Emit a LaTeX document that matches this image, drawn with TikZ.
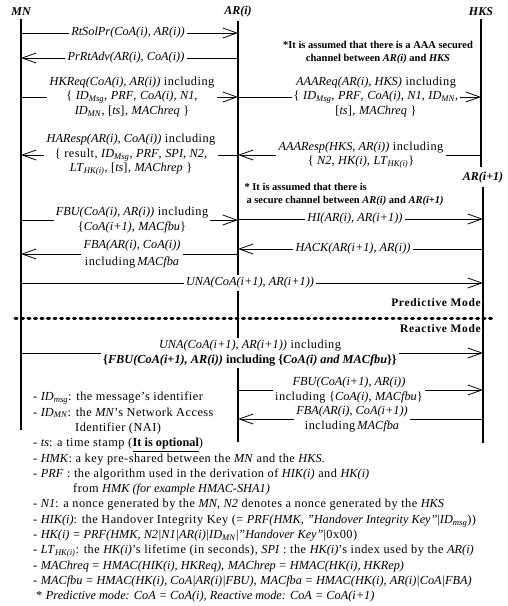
\documentclass[tikz,border=0pt]{standalone}
\usepackage{fontspec}
\setmainfont{Liberation Serif}[UprightFeatures={LetterSpace=4}]
\usetikzlibrary{arrows.meta,positioning}

\newcommand{\idsub}[1]{\textit{ID}\textsubscript{\textit{#1}}}
\newcommand{\lthk}{\textit{LT}\textsubscript{\textit{HK(i)}}}

\begin{document}
\begin{tikzpicture}[x=1pt, y=-1pt,
    every node/.style={font=\fontsize{12.3}{14.5}\selectfont},
    head/.style={font=\fontsize{12}{14}\selectfont\bfseries\itshape, inner sep=3pt},
    life/.style={line width=2.8pt},
    line/.style={line width=0.8pt},
    msg/.style={line width=0.8pt, -{Straight Barb[length=14pt, width=10pt, line width=0.8pt]}},
    lbl/.style={fill=white, align=center, inner sep=2pt},
    note/.style={font=\fontsize{10.5}{13}\selectfont\bfseries, align=center},
    mode/.style={font=\fontsize{11.5}{13}\selectfont\bfseries\addfontfeature{LetterSpace=6}, anchor=east, inner sep=0pt},
    sep/.style={line width=3pt, line cap=round, dash pattern=on 2pt off 4.5pt},
    legend/.style={font=\fontsize{12.3}{15.3}\selectfont, align=left, anchor=north west, inner sep=0pt}
  ]
  \useasboundingbox (0,0) rectangle (507,606);

  % Entities
  \node[head] (mn) at (21,12) {MN};
  \node[head] (ar) at (238,12) {AR(i)};
  \node[head] (hks) at (481,12) {HKS};
  \node[head] (arn) at (483,178) {AR(i+1)};

  \coordinate (mnend) at (21,430);
  \coordinate (arend) at (238,442);
  \coordinate (hksend) at (481,167);
  \coordinate (arnend) at (483,443);

  % Lifelines
  \draw[life] (mn.south) -- (mnend);
  \draw[life] (ar.south) -- (arend);
  \draw[life] (hks.south) -- (hksend);
  \draw[life] (arn.south) -- (arnend);

  % Notes
  \node[note] (aaanote) at (378,52) {*It is assumed that there is a AAA secured\\
    channel between \textit{AR(i)} and \textit{HKS}};
  \node[note, align=left, anchor=west] (secnote) at (241,194) {* It is assumed that there is\\
    \hspace*{2pt}a secure channel between \textit{AR(i)} and \textit{AR(i+1)}};

  % Router discovery
  \node[lbl] (rtsol) at (128,33) {\textit{RtSolPr(CoA(i), AR(i))}};
  \draw[line] (mn |- rtsol) -- (rtsol);
  \draw[msg] (rtsol) -- (ar |- rtsol);

  \node[lbl] (prrt) at (126,58) {\textit{PrRtAdv(AR(i), CoA(i))}};
  \draw[line] (ar |- prrt) -- (prrt);
  \draw[msg] (prrt) -- (mn |- prrt);

  % Handover key request
  \node[lbl] (hkreq) at (132,97) {\textit{HKReq(CoA(i), AR(i))} including\\
    \{ \idsub{Msg}, \textit{PRF}, \textit{CoA(i)}, \textit{N1},\\
    \idsub{MN}, [\textit{ts}], \textit{MAChreq} \}};
  \draw[line] (mn |- hkreq) -- (hkreq);
  \draw[msg] (hkreq) -- (ar |- hkreq);

  \node[lbl] (aaareq) at (376,97) {\textit{AAAReq(AR(i), HKS)} including\\
    \{ \idsub{Msg}, \textit{PRF}, \textit{CoA(i)}, \textit{N1}, \idsub{MN},\\
    {}[\textit{ts}], \textit{MAChreq} \}};
  \draw[line] (ar |- aaareq) -- (aaareq);
  \draw[msg] (aaareq) -- (hks |- aaareq);

  \node[lbl] (aaaresp) at (361,155) {\textit{AAAResp(HKS, AR(i))} including\\
    \{ \textit{N2}, \textit{HK(i)}, \lthk\}};
  \draw[line] (hks |- aaaresp) -- (aaaresp);
  \draw[msg] (aaaresp) -- (ar |- aaaresp);

  \node[lbl] (haresp) at (131,155) {\textit{HAResp(AR(i), CoA(i))} including\\
    \{ result, \idsub{Msg}, \textit{PRF}, \textit{SPI}, \textit{N2},\\
    \lthk, [\textit{ts}], \textit{MAChrep} \}};
  \draw[line] (ar |- haresp) -- (haresp);
  \draw[msg] (haresp) -- (mn |- haresp);

  % Fast binding
  \node[lbl] (fbu) at (132,220) {\textit{FBU(CoA(i), AR(i))} including\\
    \{\textit{CoA(i+1)}, \textit{MACfbu}\}};
  \draw[line] (mn |- fbu) -- (fbu);
  \draw[msg] (fbu) -- (ar |- fbu);

  \node[lbl] (hi) at (355,219) {\textit{HI(AR(i), AR(i+1))}};
  \draw[line] (ar |- hi) -- (hi);
  \draw[msg] (hi) -- (arn |- hi);

  \node[lbl] (hack) at (353,249) {\textit{HACK(AR(i+1), AR(i))}};
  \draw[line] (arn |- hack) -- (hack);
  \draw[msg] (hack) -- (ar |- hack);

  \node[lbl] (fba) at (132,254) {\textit{FBA(AR(i), CoA(i))}\\[3pt]
    including\,\textit{MACfba}};
  \draw[line] (ar |- fba) -- (fba);
  \draw[msg] (fba) -- (mn |- fba);

  \node[lbl] (una) at (250,283) {\textit{UNA(CoA(i+1), AR(i+1))}};
  \draw[line] (mn |- una) -- (una);
  \draw[msg] (una) -- (arn |- una);

  % Mode separator
  \node[mode] (pred) at (481,303) {Predictive Mode};
  \coordinate (sepl) at (15,318);
  \coordinate (sepr) at (496,318);
  \draw[sep] (sepl) -- (sepr);
  \node[mode] (react) at (481,329) {Reactive Mode};

  % Reactive mode
  \node[lbl] (una2) at (250,353) {\textit{UNA(CoA(i+1), AR(i+1))} including\\
    \textbf{\{\textit{FBU(CoA(i+1), AR(i))} including \{\textit{CoA(i) and MACfbu}\}\}}};
  \draw[line] (mn |- una2) -- (una2);
  \draw[msg] (una2) -- (arn |- una2);

  \node[lbl] (fbu2) at (349,390) {\textit{FBU(CoA(i+1), AR(i))}\\
    including \{\textit{CoA(i)}, \textit{MACfbu}\}};
  \draw[line] (ar |- fbu2) -- (fbu2);
  \draw[msg] (fbu2) -- (arn |- fbu2);

  \node[lbl] (fba2) at (352,419) {\textit{FBA(AR(i), CoA(i+1))}\\
    including\,\textit{MACfba}};
  \draw[line] (arn |- fba2) -- (fba2);
  \draw[msg] (fba2) -- (ar |- fba2);

  % Legend
  \node[legend] (keys) at (33,392) {%
    - \idsub{msg}: the message's identifier\\
    - \idsub{MN}: the \textit{MN}'s Network Access\\
    \hspace*{42pt}Identifier (NAI)\\
    - \textit{ts}: a time stamp (\textbf{\underline{It is optional}})\\
    - \textit{HMK}: a key pre-shared between the \textit{MN} and the \textit{HKS}.\\
    - \textit{PRF} : the algorithm used in the derivation of \textit{HIK(i)} and \textit{HK(i)}\\
    \hspace*{40pt}from \textit{HMK (for example HMAC-SHA1)}\\
    - \textit{N1}: a nonce generated by the \textit{MN}, \textit{N2} denotes a nonce generated by the \textit{HKS}\\
    - \textit{HIK(i)}: the Handover Integrity Key (= \textit{PRF(HMK, "Handover Integrity Key"}|\idsub{msg}))\\
    - \textit{HK(i)} = \textit{PRF(HMK, N2|N1|AR(i)|}\idsub{MN}|\textit{"Handover Key"}|0x00)\\
    - \lthk: the \textit{HK(i)}'s lifetime (in seconds), \textit{SPI} : the \textit{HK(i)}'s index used by the \textit{AR(i)}\\
    - \textit{MAChreq} = \textit{HMAC(HIK(i), HKReq)}, \textit{MAChrep} = \textit{HMAC(HK(i), HKRep)}\\
    - \textit{MACfbu} = \textit{HMAC(HK(i), CoA|AR(i)|FBU)}, \textit{MACfba} = \textit{HMAC(HK(i), AR(i)|CoA|FBA)}\\
    \hspace*{3pt}* \textit{Predictive mode: CoA = CoA(i), Reactive mode: CoA = CoA(i+1)}};
\end{tikzpicture}
\end{document}
